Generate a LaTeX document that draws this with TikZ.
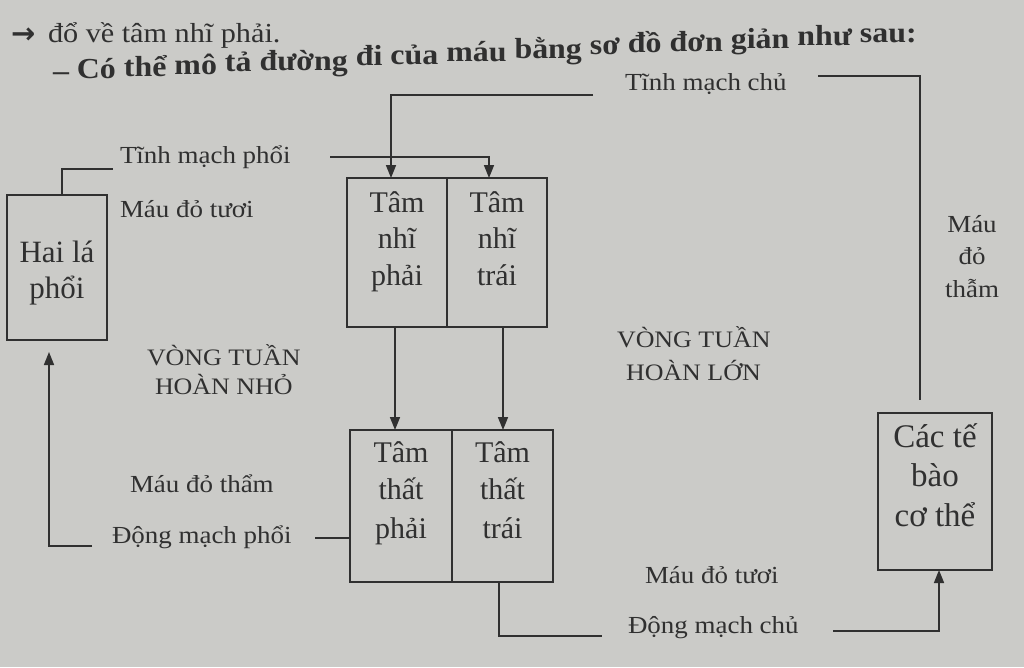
\documentclass[tikz,border=0pt]{standalone}
\usepackage{fontspec}
\setmainfont{Liberation Serif}
\newfontfamily\widefont[FakeStretch=1.1]{Liberation Serif}
\newfontfamily\arrowfont{DejaVu Sans}
\usetikzlibrary{arrows.meta,calc}
\definecolor{paper}{RGB}{203,203,200}
\definecolor{ink}{RGB}{48,48,48}
\begin{document}
\begin{tikzpicture}[x=1pt,y=-1pt,
  every node/.style={inner sep=0pt,outer sep=0pt,text=ink},
  hdra/.style={anchor=base west,font=\widefont\fontsize{27.5}{30}\selectfont},
  hdrb/.style={anchor=base west,font=\widefont\bfseries\fontsize{29}{32}\selectfont},
  lbl/.style={anchor=base west,font=\widefont\fontsize{24.5}{28}\selectfont},
  capslbl/.style={anchor=base west,font=\widefont\fontsize{23.6}{28}\selectfont},
  boxtxt/.style={anchor=base,font=\fontsize{30}{36}\selectfont},
  organ/.style={draw=ink,line width=1.6pt,rectangle},
  wire/.style={draw=ink,line width=1.6pt},
  arr/.style={wire,-{Triangle[length=13pt,width=10pt]}}]
\fill[paper] (0,0) rectangle (1024,667);
\useasboundingbox (0,0) rectangle (1024,667);
% header line 1
\node[hdra,font=\arrowfont\bfseries\fontsize{29}{32}\selectfont] (a0) at (11,43) {→};
\node[hdra] (a1) at (48,42) {đổ};
\foreach \w [count=\i from 2, remember=\i as \j (initially 1)] in {về,tâm,nhĩ,phải.}
  \node[hdra,xshift=7.5pt] (a\i) at (a\j.base east) {\w};
% header line 2 (rises to the right, as in the photo)
\node[hdrb] (b0) at (53,80) {–};
\foreach \w [count=\i from 1, remember=\i as \j (initially 0)] in {Có,thể,mô,tả,đường,đi,của,máu,bằng,sơ,đồ,đơn,giản,như,sau:}
  \path let \p1=(b\j.base east) in node[hdrb] (b\i) at (\x1+8pt, 0.047*\x1-82.115pt) {\w};
% boxes
\node[organ,minimum width=100pt,minimum height=145pt] (lung) at (57,267.5) {};
\node[organ,minimum width=100pt,minimum height=149pt] (RA) at (397,252.5) {};
\node[organ,minimum width=100pt,minimum height=149pt] (LA) at (497,252.5) {};
\node[organ,minimum width=102pt,minimum height=152pt] (RV) at (401,506) {};
\node[organ,minimum width=101pt,minimum height=152pt] (LV) at (502.5,506) {};
\node[organ,minimum width=114pt,minimum height=157pt] (cells) at (935,491.5) {};
% box texts
\node[boxtxt,font=\fontsize{31}{36}\selectfont] (lungT1) at (57,262) {Hai lá};
\node[boxtxt,font=\fontsize{31}{36}\selectfont] (lungT2) at (57,298) {phổi};
\node[boxtxt] (raT1) at (397,212) {Tâm};
\node[boxtxt] (raT2) at (397,248) {nhĩ};
\node[boxtxt] (raT3) at (397,285) {phải};
\node[boxtxt] (laT1) at (497,212) {Tâm};
\node[boxtxt] (laT2) at (497,248) {nhĩ};
\node[boxtxt] (laT3) at (497,285) {trái};
\node[boxtxt] (rvT1) at (401,462) {Tâm};
\node[boxtxt] (rvT2) at (401,499) {thất};
\node[boxtxt] (rvT3) at (401,538) {phải};
\node[boxtxt] (lvT1) at (502.5,462) {Tâm};
\node[boxtxt] (lvT2) at (502.5,499) {thất};
\node[boxtxt] (lvT3) at (502.5,538) {trái};
\node[boxtxt,font=\fontsize{33}{38}\selectfont] (cT1) at (935,447) {Các tế};
\node[boxtxt,font=\fontsize{33}{38}\selectfont] (cT2) at (935,486) {bào};
\node[boxtxt,font=\fontsize{33}{38}\selectfont] (cT3) at (935,526) {cơ thể};
% labels
\node[lbl] (tmc) at (625,90) {Tĩnh mạch chủ};
\node[lbl] (tmp) at (120,163) {Tĩnh mạch phổi};
\node[lbl] (mdt1) at (120,217) {Máu đỏ tươi};
\node[capslbl] (vn1) at (147,365) {VÒNG TUẦN};
\node[capslbl] (vn2) at (155,394) {HOÀN NHỎ};
\node[capslbl] (vl1) at (617,347) {VÒNG TUẦN};
\node[capslbl] (vl2) at (626,380) {HOÀN LỚN};
\node[lbl,anchor=base] (mr1) at (972,232) {Máu};
\node[lbl,anchor=base] (mr2) at (972,264) {đỏ};
\node[lbl,anchor=base] (mr3) at (972,297) {thẫm};
\node[lbl] (mdth) at (130,492) {Máu đỏ thẩm};
\node[lbl] (dmp) at (112,543) {Động mạch phổi};
\node[lbl] (mdt2) at (645,583) {Máu đỏ tươi};
\node[lbl] (dmc) at (628,633) {Động mạch chủ};
% connector end points
\coordinate (vcA) at (593,95);
\coordinate (vcR) at (818,76);
\coordinate (cTop) at (920,400);
\coordinate (tmpL) at (113,169);
\coordinate (tmpR) at (330,157);
\coordinate (dmpR) at (315,538);
\coordinate (dmpL) at (92,546);
\coordinate (lungIn) at (49,352);
\coordinate (dmcL) at (602,636);
\coordinate (dmcR) at (833,631);
% connectors
\draw[arr] (vcA) -| (RA.north -| 391,0);
\draw[wire] (vcR) -| (cTop);
\draw[wire] (lung.north -| 62,0) |- (tmpL);
\draw[arr] (tmpR) -| (LA.north -| 489,0);
\draw[arr] (RA.south -| 395,0) -- (RV.north -| 395,0);
\draw[arr] (LA.south -| 503,0) -- (LV.north -| 503,0);
\draw[wire] (dmpR) -- (RV.west |- dmpR);
\draw[arr] (dmpL) -| (lungIn);
\draw[wire] (LV.south -| 499,0) |- (dmcL);
\draw[arr] (dmcR) -| (cells.south -| 939,0);
\end{tikzpicture}
\end{document}
